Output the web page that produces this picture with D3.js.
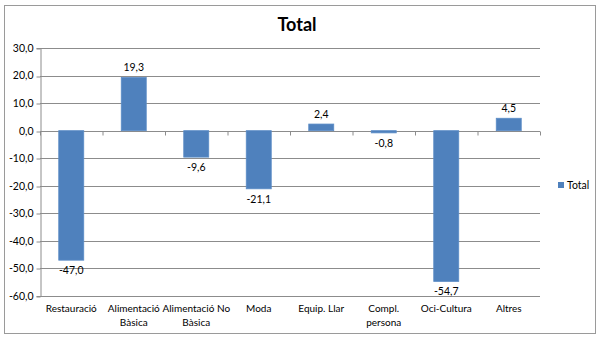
<!DOCTYPE html>
<html><head><meta charset="utf-8">
<script src="https://cdn.jsdelivr.net/npm/d3@7"></script>
<style>
body{margin:0;background:#fff;}
svg{display:block;font-family:Lato,"Open Sans",sans-serif;}
</style></head>
<body><svg id="c" width="600" height="340"></svg>
<script>
const categories = [["Restauració"],["Alimentació","Bàsica"],["Alimentació No","Bàsica"],["Moda"],["Equip. Llar"],["Compl.","persona"],["Oci-Cultura"],["Altres"]];
const values = [-47.0, 19.3, -9.6, -21.1, 2.4, -0.8, -54.7, 4.5];
const yTicks = [30,20,10,0,-10,-20,-30,-40,-50,-60];
const seriesName = "Total";
const title = "Total";

const svg = d3.select("#c");
const fmt = v => d3.format(".1f")(v).replace(".", ",").replace("−","-");

svg.append("rect").attr("x",4.5).attr("y",5.5).attr("width",591).attr("height",328)
  .attr("fill","#fff").attr("stroke","#9a9a9a");

svg.append("text").attr("x",297).attr("y",31).attr("text-anchor","middle")
  .attr("font-size",18).attr("font-weight","bold").attr("fill","#000").text(title);

const x = d3.scaleBand().domain(d3.range(categories.length)).range([40,540]).paddingInner(0.6).paddingOuter(0.3);
const xb = d3.scaleBand().domain(d3.range(categories.length)).range([40,540]);
const y = d3.scaleLinear().domain([-60,30]).range([296,48]);

// gridlines
svg.append("g").selectAll("line").data(yTicks).join("line")
  .attr("x1",40).attr("x2",540).attr("y1",d=>Math.round(y(d))+0.5).attr("y2",d=>Math.round(y(d))+0.5)
  .attr("stroke","#8c8c8c").attr("stroke-width",1);

// y axis
const ya = svg.append("g").attr("transform","translate(40.5,0)")
  .call(d3.axisLeft(y).tickValues(yTicks).tickSize(4).tickPadding(3).tickFormat(fmt));
ya.select(".domain").attr("stroke","#8c8c8c");
ya.selectAll(".tick line").attr("stroke","#8c8c8c").attr("transform",d=>`translate(0,${Math.round(y(d))+0.5-y(d)})`);
ya.selectAll(".tick text").attr("font-size",10.5).attr("fill","#000").attr("font-family","Lato,'Open Sans',sans-serif");

// bars
svg.append("g").selectAll("rect").data(values).join("rect")
  .attr("x",(d,i)=>x(i)).attr("width",x.bandwidth())
  .attr("y",d=>y(Math.max(0,d))).attr("height",d=>Math.abs(y(d)-y(0)))
  .attr("fill","#4f81bd").attr("stroke","#5b8cc6").attr("stroke-width",0.8);

// category ticks on zero line
const z = Math.round(y(0))+0.5;
svg.append("g").selectAll("line").data(d3.range(categories.length+1)).join("line")
  .attr("x1",i=>i<categories.length?xb(i)+0.5:540.5).attr("x2",i=>i<categories.length?xb(i)+0.5:540.5)
  .attr("y1",z).attr("y2",z+4).attr("stroke","#8c8c8c");

// value labels
svg.append("g").selectAll("text").data(values).join("text")
  .attr("x",(d,i)=>x(i)+x.bandwidth()/2)
  .attr("y",d=>d>=0 ? y(d)-6 : y(d)+14)
  .attr("text-anchor","middle").attr("font-size",10.5).attr("fill","#000")
  .text(d=>fmt(d));

// category labels
const cl = svg.append("g").selectAll("text").data(categories).join("text")
  .attr("x",(d,i)=>xb(i)+xb.bandwidth()/2).attr("y",312)
  .attr("text-anchor","middle").attr("font-size",10).attr("fill","#000");
cl.selectAll("tspan").data(d=>d).join("tspan")
  .attr("x",function(){return this.parentNode.getAttribute("x");})
  .attr("dy",(d,i)=>i===0?0:13.5).text(d=>d);

// legend
const lg = svg.append("g").attr("transform","translate(558,182)");
lg.append("rect").attr("width",6).attr("height",6).attr("fill","#4f81bd");
lg.append("text").attr("x",9).attr("y",6.5).attr("font-size",10.5).attr("fill","#000").text(seriesName);
</script></body></html>
